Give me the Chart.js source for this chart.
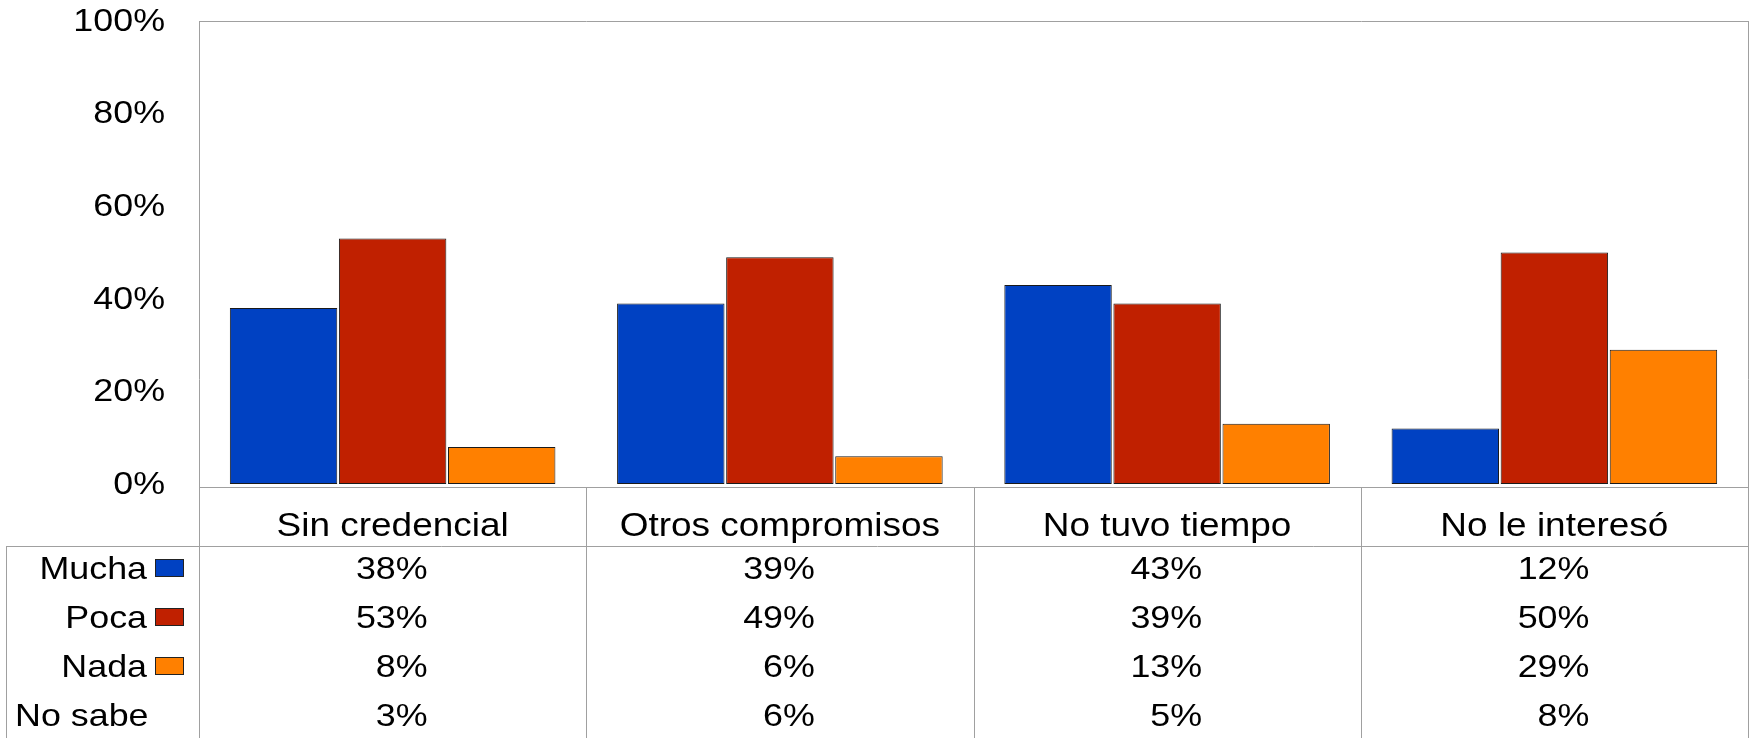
<!DOCTYPE html>
<html>
<head>
<meta charset="utf-8">
<script src="https://cdn.jsdelivr.net/npm/chart.js@4.4.0/dist/chart.umd.min.js"></script>
<style>
    html, body { margin: 0; padding: 0; background: #fff; overflow: hidden; }
    #wrap { width: 1750px; height: 738px; }
</style>
</head>
<body>
<div id="wrap"><canvas id="chart" width="1750" height="738"></canvas></div>
<script>
// Chart data
const categories = ['Sin credencial', 'Otros compromisos', 'No tuvo tiempo', 'No le interesó'];
const seriesNames = ['Mucha', 'Poca', 'Nada'];
const mucha = [38, 39, 43, 12];
const poca = [53, 49, 39, 50];
const nada = [8, 6, 13, 29];
const noSabeLabel = 'No sabe';
const noSabe = [3, 6, 5, 8];
const yTicks = [0, 20, 40, 60, 80, 100];

const colors = ['#0041c2', '#c02000', '#ff8000'];
const lineColor = '#a0a0a0';
const fontFamily = '"Liberation Sans", Arial, sans-serif';

// text in the reference is a bit wider than Arial, stretch it horizontally
function wideText(ctx, str, px, py, align, size) {
    ctx.save();
    ctx.translate(px, py);
    ctx.scale(1.12, 1);
    ctx.font = size + 'px ' + fontFamily;
    ctx.fillStyle = '#000';
    ctx.textAlign = align;
    ctx.textBaseline = 'middle';
    ctx.fillText(str, 0, 0);
    ctx.restore();
}

function hLine(ctx, x1, x2, yy) {
    ctx.beginPath();
    ctx.moveTo(x1, Math.round(yy) + 0.5);
    ctx.lineTo(x2, Math.round(yy) + 0.5);
    ctx.stroke();
}

function vLine(ctx, xx, y1, y2) {
    ctx.beginPath();
    ctx.moveTo(Math.round(xx) + 0.5, y1);
    ctx.lineTo(Math.round(xx) + 0.5, y2);
    ctx.stroke();
}

// Frame, axis labels and the data table under the plot
const tablePlugin = {
    id: 'dataTable',
    afterDraw(chart) {
        const ctx = chart.ctx;
        const a = chart.chartArea;
        const xs = chart.scales.x;
        const ys = chart.scales.y;
        const H = chart.height;
        const step = (a.right - a.left) / categories.length;
        const axisY = a.bottom + 3;
        const tableTop = a.bottom + 62;
        const rowH = 49;

        ctx.save();
        ctx.strokeStyle = lineColor;
        ctx.lineWidth = 1;

        // plot frame
        hLine(ctx, a.left, a.right + 1, a.top);
        vLine(ctx, a.left, a.top, H);
        vLine(ctx, a.right, a.top, H);
        hLine(ctx, a.left, a.right + 1, axisY);

        // column dividers
        for (let i = 1; i < categories.length; i++) {
            vLine(ctx, a.left + i * step, axisY, H);
        }

        // table outline
        hLine(ctx, 6, a.right + 1, tableTop);
        vLine(ctx, 6, tableTop, H);
        ctx.restore();

        // y tick labels
        yTicks.forEach(v => {
            wideText(ctx, v + '%', 165, ys.getPixelForValue(v) + 1, 'right', 32);
        });

        // category labels
        categories.forEach((c, i) => {
            wideText(ctx, c, xs.getPixelForValue(i), a.bottom + 43, 'center', 33);
        });

        // table rows
        const rows = chart.data.datasets.map(ds => ({ label: ds.label, data: ds.data, color: ds.backgroundColor }));
        rows.push({ label: noSabeLabel, data: noSabe, color: null });

        rows.forEach((row, r) => {
            const cy = tableTop + 24 + r * rowH;
            if (row.color) {
                wideText(ctx, row.label, 147, cy, 'right', 32);
                ctx.fillStyle = row.color;
                ctx.fillRect(155, cy - 11, 29, 18);
                ctx.strokeStyle = '#222';
                ctx.lineWidth = 1;
                ctx.strokeRect(155.5, cy - 10.5, 28, 17);
            } else {
                wideText(ctx, row.label, 15, cy, 'left', 32);
            }
            row.data.forEach((v, i) => {
                wideText(ctx, v + '%', xs.getPixelForValue(i) + 35, cy, 'right', 32);
            });
        });
    }
};

const ctx = document.getElementById('chart').getContext('2d');

new Chart(ctx, {
    type: 'bar',
    data: {
        labels: categories,
        datasets: [mucha, poca, nada].map((vals, i) => ({
            label: seriesNames[i],
            data: vals,
            backgroundColor: colors[i],
            borderColor: '#1a1a1a',
            borderWidth: 1,
            borderSkipped: false,
            categoryPercentage: 0.845,
            barPercentage: 0.985
        }))
    },
    options: {
        responsive: false,
        animation: false,
        devicePixelRatio: 1,
        layout: {
            padding: { top: 21, right: 2, left: 0, bottom: 0 }
        },
        plugins: {
            legend: { display: false },
            tooltip: { enabled: false }
        },
        scales: {
            x: {
                offset: true,
                grid: { display: false },
                border: { display: false },
                ticks: { display: false },
                afterFit(scale) { scale.height = 254; }
            },
            y: {
                min: 0,
                max: 100,
                ticks: { display: false, stepSize: 20 },
                grid: { display: false },
                border: { display: false },
                afterFit(scale) { scale.width = 199; }
            }
        }
    },
    plugins: [tablePlugin]
});
</script>
</body>
</html>
